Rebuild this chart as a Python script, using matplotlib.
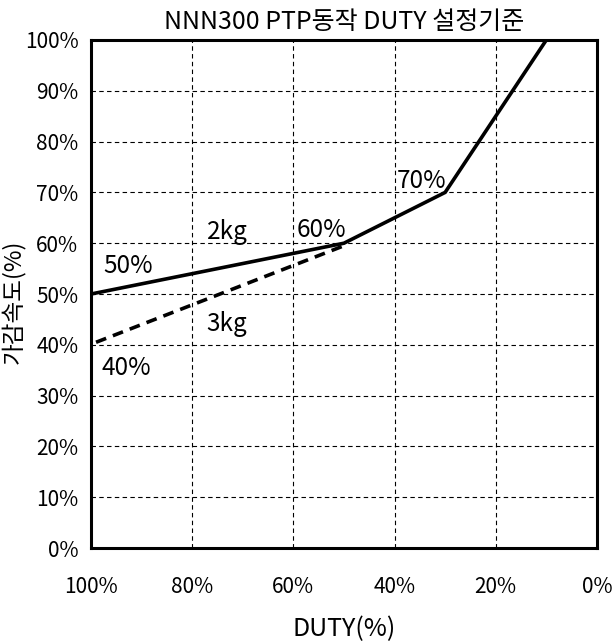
import matplotlib.pyplot as plt

plt.rcParams['font.family'] = ['Noto Sans CJK KR', 'DejaVu Sans']

# solid line (2kg) and dashed line (3kg): duty % vs accel/decel %
duty_2kg = [100, 50, 30, 10]
acc_2kg = [50, 60, 70, 100]
duty_3kg = [99, 50]
acc_3kg = [40.5, 59.5]

ticks_x = [100, 80, 60, 40, 20, 0]
ticks_y = list(range(0, 101, 10))

fig = plt.figure(figsize=(6.16, 6.43), dpi=100)
ax = fig.add_axes([0.1477, 0.1477, 0.8213, 0.7901])

ax.plot(duty_2kg, acc_2kg, color='black', lw=2.6, solid_joinstyle='miter')
ax.plot(duty_3kg, acc_3kg, color='black', lw=2.6, ls=(0, (3, 2)))

ax.set_xlim(100, 0)
ax.set_ylim(0, 100)
ax.set_xticks(ticks_x)
ax.set_xticklabels([f'{t}%' for t in ticks_x])
ax.set_yticks(ticks_y)
ax.set_yticklabels([f'{t}%' for t in ticks_y])
ax.tick_params(length=0, labelsize=15)
ax.tick_params(axis='x', pad=20)
ax.tick_params(axis='y', pad=9)
ax.grid(True, color='black', ls=(0, (4, 3)), lw=0.8)
for s in ax.spines.values():
    s.set_linewidth(2.2)

# annotations
fs = 17.5
ax.text(92.7, 55.5, '50%', ha='center', va='center', fontsize=fs)
ax.text(73.1, 62.2, '2kg', ha='center', va='center', fontsize=fs)
ax.text(54.5, 62.6, '60%', ha='center', va='center', fontsize=fs)
ax.text(34.6, 72.2, '70%', ha='center', va='center', fontsize=fs)
ax.text(73.1, 44.1, '3kg', ha='center', va='center', fontsize=fs)
ax.text(93.1, 35.4, '40%', ha='center', va='center', fontsize=fs)

ax.set_title('NNN300 PTP동작 DUTY 설정기준', fontsize=18, pad=8)
ax.set_xlabel('DUTY(%)', fontsize=18)
ax.xaxis.set_label_coords(0.5, -0.133)
ax.set_ylabel('가감속도(%)', fontsize=17)
ax.yaxis.set_label_coords(-0.13, 0.485)

fig.savefig('out.png', dpi=100)
